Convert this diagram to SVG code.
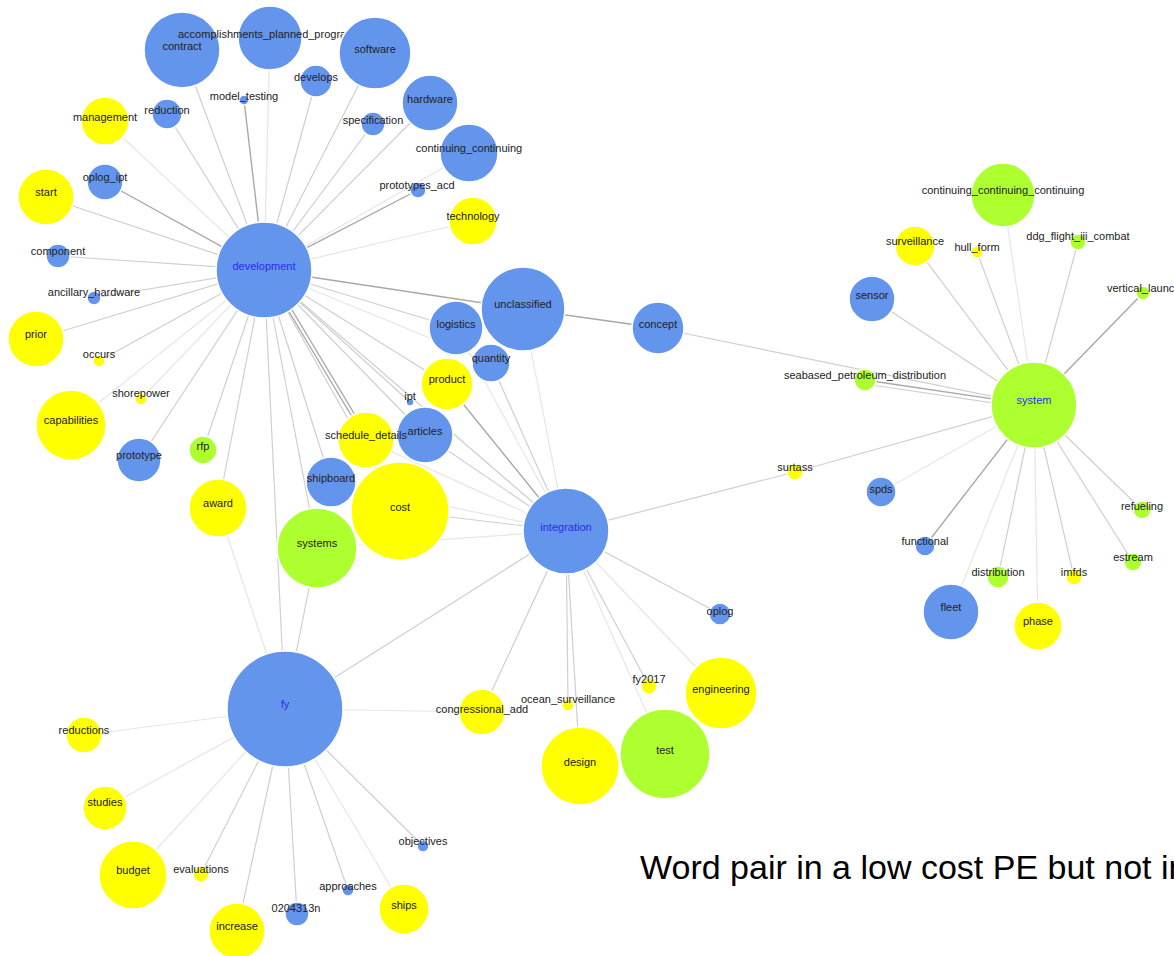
<svg xmlns="http://www.w3.org/2000/svg" width="1174" height="956" viewBox="0 0 1174 956">
<style>
.e{stroke:#cfcfcf;stroke-width:1.2;fill:none}
.d{stroke:#a8a8a8;stroke-width:1.4;fill:none}
.f{stroke:#e6e6e6;stroke-width:1.2;fill:none}
.b{fill:#6495ED;stroke:#fff;stroke-width:1.5}
.y{fill:#FFFF00;stroke:#fff;stroke-width:1.5}
.g{fill:#ADFF2F;stroke:#fff;stroke-width:1.5}
text{font-family:"Liberation Sans",Arial,sans-serif;font-size:11px;fill:#222;text-anchor:middle}
text.h{fill:#2b2bf0}
text.cap{font-family:"Liberation Sans",Arial,sans-serif;font-size:34px;fill:#000;text-anchor:start}
</style>
<rect width="1174" height="956" fill="#fff"/>
<g id="connectors">
<!-- development -->
<line class="e" x1="264" y1="270" x2="182" y2="50"/>
<line class="f" x1="264" y1="270" x2="270" y2="38"/>
<line class="e" x1="264" y1="270" x2="375" y2="53"/>
<line class="e" x1="264" y1="270" x2="316" y2="81"/>
<line class="d" x1="264" y1="270" x2="244" y2="100"/>
<line class="e" x1="264" y1="270" x2="167" y2="114"/>
<line class="f" x1="264" y1="270" x2="105" y2="121"/>
<line class="e" x1="264" y1="270" x2="373" y2="124"/>
<line class="e" x1="264" y1="270" x2="430" y2="103"/>
<line class="f" x1="264" y1="270" x2="469" y2="153"/>
<line class="d" x1="264" y1="270" x2="418" y2="190"/>
<line class="f" x1="264" y1="270" x2="473" y2="221"/>
<line class="d" x1="264" y1="270" x2="105" y2="182"/>
<line class="e" x1="264" y1="270" x2="46" y2="197"/>
<line class="e" x1="264" y1="270" x2="58" y2="256"/>
<line class="e" x1="264" y1="270" x2="94" y2="298"/>
<line class="e" x1="264" y1="270" x2="36" y2="339"/>
<line class="e" x1="264" y1="270" x2="99" y2="361"/>
<line class="f" x1="264" y1="270" x2="141" y2="399"/>
<line class="f" x1="264" y1="270" x2="71" y2="425"/>
<line class="e" x1="264" y1="270" x2="139" y2="460"/>
<line class="e" x1="264" y1="270" x2="203" y2="450"/>
<line class="e" x1="264" y1="270" x2="218" y2="508"/>
<line class="e" x1="264" y1="270" x2="331" y2="482"/>
<line class="e" x1="264" y1="270" x2="317" y2="548"/>
<line class="e" x1="264" y1="270" x2="285" y2="709"/>
<line class="d" x1="264" y1="270" x2="523" y2="309"/>
<line class="e" x1="264" y1="270" x2="456" y2="328"/>
<line class="f" x1="264" y1="270" x2="491" y2="363"/>
<line class="e" x1="264" y1="270" x2="447" y2="384"/>
<line class="e" x1="264" y1="270" x2="410" y2="402"/>
<line class="e" x1="264" y1="270" x2="425" y2="435"/>
<line class="d" x1="264" y1="270" x2="366" y2="440"/>
<line class="d" x1="268" y1="270" x2="370" y2="440"/>
<line class="e" x1="264" y1="270" x2="400" y2="511"/>
<line class="e" x1="264" y1="270" x2="566" y2="531"/>
<!-- integration -->
<line class="f" x1="566" y1="531" x2="523" y2="309"/>
<line class="f" x1="566" y1="531" x2="456" y2="328"/>
<line class="e" x1="566" y1="531" x2="491" y2="363"/>
<line class="d" x1="566" y1="531" x2="447" y2="384"/>
<line class="e" x1="566" y1="531" x2="425" y2="435"/>
<line class="f" x1="566" y1="531" x2="366" y2="440"/>
<line class="e" x1="566" y1="531" x2="400" y2="511"/>
<line class="f" x1="566" y1="531" x2="331" y2="482"/>
<line class="f" x1="566" y1="531" x2="317" y2="548"/>
<line class="e" x1="566" y1="531" x2="285" y2="709"/>
<line class="e" x1="566" y1="531" x2="482" y2="712"/>
<line class="e" x1="566" y1="531" x2="568" y2="705"/>
<line class="e" x1="566" y1="531" x2="580" y2="766"/>
<line class="f" x1="566" y1="531" x2="665" y2="754"/>
<line class="e" x1="566" y1="531" x2="649" y2="686"/>
<line class="f" x1="566" y1="531" x2="721" y2="693"/>
<line class="e" x1="566" y1="531" x2="720" y2="614"/>
<line class="e" x1="566" y1="531" x2="795" y2="472"/>
<line class="e" x1="795" y1="472" x2="1034" y2="405"/>
<!-- concept -->
<line class="d" x1="523" y1="309" x2="658" y2="328"/>
<line class="e" x1="658" y1="328" x2="1034" y2="405"/>
<!-- system -->
<line class="f" x1="1034" y1="405" x2="1003" y2="195"/>
<line class="e" x1="1034" y1="405" x2="915" y2="246"/>
<line class="e" x1="1034" y1="405" x2="977" y2="252"/>
<line class="e" x1="1034" y1="405" x2="1078" y2="242"/>
<line class="d" x1="1034" y1="405" x2="1143" y2="293"/>
<line class="e" x1="1034" y1="405" x2="872" y2="299"/>
<line class="d" x1="1034" y1="405" x2="865" y2="380"/>
<line class="e" x1="1034" y1="409" x2="865" y2="384"/>
<line class="f" x1="1034" y1="405" x2="881" y2="492"/>
<line class="d" x1="1034" y1="405" x2="925" y2="546"/>
<line class="f" x1="1034" y1="405" x2="951" y2="612"/>
<line class="e" x1="1034" y1="405" x2="998" y2="577"/>
<line class="f" x1="1034" y1="405" x2="1038" y2="626"/>
<line class="e" x1="1034" y1="405" x2="1074" y2="577"/>
<line class="e" x1="1034" y1="405" x2="1133" y2="562"/>
<line class="e" x1="1034" y1="405" x2="1142" y2="510"/>
<!-- fy -->
<line class="f" x1="285" y1="709" x2="84" y2="735"/>
<line class="f" x1="285" y1="709" x2="105" y2="808"/>
<line class="f" x1="285" y1="709" x2="133" y2="875"/>
<line class="e" x1="285" y1="709" x2="201" y2="874"/>
<line class="e" x1="285" y1="709" x2="237" y2="931"/>
<line class="e" x1="285" y1="709" x2="297" y2="914"/>
<line class="e" x1="285" y1="709" x2="348" y2="890"/>
<line class="f" x1="285" y1="709" x2="404" y2="909"/>
<line class="e" x1="285" y1="709" x2="423" y2="846"/>
<line class="f" x1="285" y1="709" x2="482" y2="712"/>
<line class="f" x1="285" y1="709" x2="218" y2="508"/>
<line class="e" x1="285" y1="709" x2="317" y2="548"/>
</g>
<g id="n-contract"><circle class="b" cx="182" cy="50" r="38"/><text x="182" y="50">contract</text></g>
<g id="n-accomplishments"><circle class="b" cx="270" cy="38" r="32"/><text x="178" y="38" style="text-anchor:start">accomplishments_planned_progra</text></g>
<g id="n-software"><circle class="b" cx="375" cy="53" r="36"/><text x="375" y="53">software</text></g>
<g id="n-develops"><circle class="b" cx="316" cy="81" r="16"/><text x="316" y="81">develops</text></g>
<g id="n-model_testing"><circle class="b" cx="244" cy="100" r="5"/><text x="244" y="100">model_testing</text></g>
<g id="n-reduction"><circle class="b" cx="167" cy="114" r="15"/><text x="167" y="114">reduction</text></g>
<g id="n-management"><circle class="y" cx="105" cy="121" r="24"/><text x="105" y="121">management</text></g>
<g id="n-specification"><circle class="b" cx="373" cy="124" r="12"/><text x="373" y="124">specification</text></g>
<g id="n-hardware"><circle class="b" cx="430" cy="103" r="28"/><text x="430" y="103">hardware</text></g>
<g id="n-continuing_continuing"><circle class="b" cx="469" cy="153" r="29"/><text x="469" y="152">continuing_continuing</text></g>
<g id="n-prototypes_acd"><circle class="b" cx="418" cy="190" r="8"/><text x="417" y="189">prototypes_acd</text></g>
<g id="n-technology"><circle class="y" cx="473" cy="221" r="24"/><text x="473" y="220">technology</text></g>
<g id="n-oplog_ipt"><circle class="b" cx="105" cy="182" r="18"/><text x="105" y="181">oplog_ipt</text></g>
<g id="n-start"><circle class="y" cx="46" cy="197" r="28"/><text x="46" y="196">start</text></g>
<g id="n-component"><circle class="b" cx="58" cy="256" r="12"/><text x="58" y="255">component</text></g>
<g id="n-ancillary_hardware"><circle class="b" cx="94" cy="298" r="7"/><text x="94" y="296">ancillary_hardware</text></g>
<g id="n-prior"><circle class="y" cx="36" cy="339" r="28"/><text x="36" y="338">prior</text></g>
<g id="n-occurs"><circle class="y" cx="99" cy="361" r="6"/><text x="99" y="358">occurs</text></g>
<g id="n-shorepower"><circle class="y" cx="141" cy="399" r="6"/><text x="141" y="397">shorepower</text></g>
<g id="n-capabilities"><circle class="y" cx="71" cy="425" r="35"/><text x="71" y="424">capabilities</text></g>
<g id="n-prototype"><circle class="b" cx="139" cy="460" r="22"/><text x="139" y="459">prototype</text></g>
<g id="n-rfp"><circle class="g" cx="203" cy="450" r="14"/><text x="203" y="450">rfp</text></g>
<g id="n-award"><circle class="y" cx="218" cy="508" r="29"/><text x="218" y="507">award</text></g>
<g id="n-shipboard"><circle class="b" cx="331" cy="482" r="25"/><text x="331" y="482">shipboard</text></g>
<g id="n-systems"><circle class="g" cx="317" cy="548" r="40"/><text x="317" y="547">systems</text></g>
<g id="n-articles"><circle class="b" cx="425" cy="435" r="28"/><text x="425" y="435">articles</text></g>
<g id="n-schedule_details"><circle class="y" cx="366" cy="440" r="28"/><text x="366" y="439">schedule_details</text></g>
<g id="n-ipt"><circle class="b" cx="410" cy="402" r="4"/><text x="410" y="400">ipt</text></g>
<g id="n-product"><circle class="y" cx="447" cy="384" r="26"/><text x="447" y="383">product</text></g>
<g id="n-logistics"><circle class="b" cx="456" cy="328" r="27"/><text x="456" y="328">logistics</text></g>
<g id="n-unclassified"><circle class="b" cx="523" cy="309" r="42"/><text x="523" y="308">unclassified</text></g>
<g id="n-quantity"><circle class="b" cx="491" cy="363" r="19"/><text x="491" y="362">quantity</text></g>
<g id="n-concept"><circle class="b" cx="658" cy="328" r="26"/><text x="658" y="328">concept</text></g>
<g id="n-cost"><circle class="y" cx="400" cy="511" r="49"/><text x="400" y="511">cost</text></g>
<g id="n-development"><circle class="b" cx="264" cy="270" r="48"/><text class="h" x="264" y="270">development</text></g>
<g id="n-integration"><circle class="b" cx="566" cy="531" r="43"/><text class="h" x="566" y="531">integration</text></g>
<g id="n-ccc"><circle class="g" cx="1003" cy="195" r="32"/><text x="1003" y="194">continuing_continuing_continuing</text></g>
<g id="n-surveillance"><circle class="y" cx="915" cy="246" r="20"/><text x="915" y="245">surveillance</text></g>
<g id="n-hull_form"><circle class="y" cx="977" cy="252" r="6"/><text x="977" y="251">hull_form</text></g>
<g id="n-ddg"><circle class="g" cx="1078" cy="242" r="8"/><text x="1078" y="240">ddg_flight_iii_combat</text></g>
<g id="n-vertical"><circle class="g" cx="1143" cy="293" r="7"/><text x="1107" y="292" style="text-anchor:start">vertical_launc</text></g>
<g id="n-sensor"><circle class="b" cx="872" cy="299" r="23"/><text x="872" y="299">sensor</text></g>
<g id="n-seabased"><circle class="g" cx="865" cy="380" r="11"/><text x="865" y="379">seabased_petroleum_distribution</text></g>
<g id="n-surtass"><circle class="y" cx="795" cy="472" r="8"/><text x="795" y="471">surtass</text></g>
<g id="n-spds"><circle class="b" cx="881" cy="492" r="15"/><text x="881" y="493">spds</text></g>
<g id="n-functional"><circle class="b" cx="925" cy="546" r="10"/><text x="925" y="545">functional</text></g>
<g id="n-distribution"><circle class="g" cx="998" cy="577" r="11"/><text x="998" y="576">distribution</text></g>
<g id="n-imfds"><circle class="y" cx="1074" cy="577" r="8"/><text x="1074" y="576">imfds</text></g>
<g id="n-refueling"><circle class="g" cx="1142" cy="510" r="9"/><text x="1142" y="510">refueling</text></g>
<g id="n-estream"><circle class="g" cx="1133" cy="562" r="9"/><text x="1133" y="561">estream</text></g>
<g id="n-fleet"><circle class="b" cx="951" cy="612" r="28"/><text x="951" y="611">fleet</text></g>
<g id="n-phase"><circle class="y" cx="1038" cy="626" r="24"/><text x="1038" y="625">phase</text></g>
<g id="n-system"><circle class="g" cx="1034" cy="405" r="43"/><text class="h" x="1034" y="404">system</text></g>
<g id="n-reductions"><circle class="y" cx="84" cy="735" r="18"/><text x="84" y="734">reductions</text></g>
<g id="n-studies"><circle class="y" cx="105" cy="808" r="22"/><text x="105" y="806">studies</text></g>
<g id="n-budget"><circle class="y" cx="133" cy="875" r="34"/><text x="133" y="874">budget</text></g>
<g id="n-evaluations"><circle class="y" cx="201" cy="874" r="8"/><text x="201" y="873">evaluations</text></g>
<g id="n-increase"><circle class="y" cx="237" cy="931" r="28"/><text x="237" y="930">increase</text></g>
<g id="n-0204313n"><circle class="b" cx="297" cy="914" r="12"/><text x="296" y="912">0204313n</text></g>
<g id="n-approaches"><circle class="b" cx="348" cy="890" r="6"/><text x="348" y="890">approaches</text></g>
<g id="n-ships"><circle class="y" cx="404" cy="909" r="25"/><text x="404" y="909">ships</text></g>
<g id="n-objectives"><circle class="b" cx="423" cy="846" r="6"/><text x="423" y="845">objectives</text></g>
<g id="n-fy"><circle class="b" cx="285" cy="709" r="58"/><text class="h" x="285" y="708">fy</text></g>
<g id="n-oplog"><circle class="b" cx="720" cy="614" r="11"/><text x="720" y="615">oplog</text></g>
<g id="n-fy2017"><circle class="y" cx="649" cy="686" r="8"/><text x="649" y="683">fy2017</text></g>
<g id="n-engineering"><circle class="y" cx="721" cy="693" r="36"/><text x="721" y="693">engineering</text></g>
<g id="n-ocean_surveillance"><circle class="y" cx="568" cy="705" r="6"/><text x="568" y="703">ocean_surveillance</text></g>
<g id="n-congressional_add"><circle class="y" cx="482" cy="712" r="23"/><text x="482" y="713">congressional_add</text></g>
<g id="n-design"><circle class="y" cx="580" cy="766" r="39"/><text x="580" y="766">design</text></g>
<g id="n-test"><circle class="g" cx="665" cy="754" r="45"/><text x="665" y="754">test</text></g>
<text class="cap" x="640" y="879">Word pair in a low cost PE but not in</text>
</svg>
